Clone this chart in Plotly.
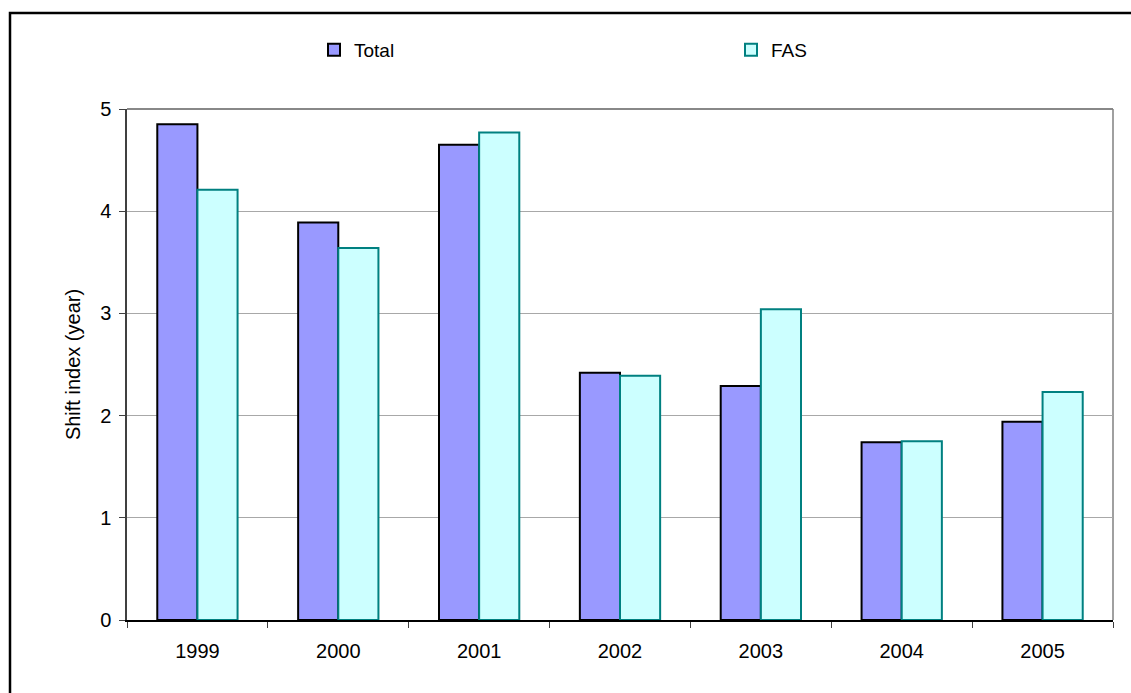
import plotly.graph_objects as go

# Shift index per year for the total sample and the FAS subgroup
years = ["1999", "2000", "2001", "2002", "2003", "2004", "2005"]
total = [4.85, 3.89, 4.65, 2.42, 2.29, 1.74, 1.94]
fas = [4.21, 3.64, 4.77, 2.39, 3.04, 1.75, 2.23]

W, H = 1131, 693
L, R, T, B = 127, 18, 109, 73
pw, ph = W - L - R, H - T - B


def px_x(x):
    return (x - L) / pw


def px_y(y):
    return (H - B - y) / ph


FONT = "Liberation Sans, Arial, sans-serif"

fig = go.Figure()
fig.add_trace(go.Bar(
    x=years, y=total, name="Total",
    marker=dict(color="#9999FF", line=dict(color="#000000", width=2)),
))
fig.add_trace(go.Bar(
    x=years, y=fas, name="FAS",
    marker=dict(color="#CCFFFF", line=dict(color="#008080", width=2)),
))

fig.update_layout(
    width=W, height=H,
    margin=dict(l=L, r=R, t=T, b=B, autoexpand=False),
    paper_bgcolor="white", plot_bgcolor="white",
    barmode="group", bargap=0.43, bargroupgap=0,
    font=dict(family=FONT, size=20, color="#000000"),
    showlegend=True,
    legend=dict(
        orientation="h", x=px_x(314), xanchor="left",
        y=px_y(50), yanchor="middle",
        entrywidth=372, entrywidthmode="pixels",
        font=dict(family=FONT, size=19, color="#000000"),
        bgcolor="rgba(0,0,0,0)", itemclick=False,
    ),
    xaxis=dict(
        type="category", showgrid=False,
        showline=True, linecolor="#000000", linewidth=1.5,
        ticks="outside", tickson="boundaries", ticklen=6, tickcolor="#404040",
        ticklabelstandoff=12,
        tickfont=dict(family=FONT, size=20),
    ),
    yaxis=dict(
        range=[0, 5], tickvals=[0, 1, 2, 3, 4, 5],
        showgrid=True, gridcolor="#A8A8A8", gridwidth=1,
        showline=True, linecolor="#404040", linewidth=1.5,
        ticks="outside", ticklen=6, tickcolor="#404040",
        ticklabelstandoff=4,
        tickfont=dict(family=FONT, size=20),
        zeroline=False,
        title=dict(text="Shift index (year)", standoff=14,
                   font=dict(family=FONT, size=20)),
    ),
    shapes=[
        # plot area border (top and right)
        dict(type="line", xref="paper", yref="paper", x0=0, x1=1, y0=1, y1=1,
             line=dict(color="#606060", width=1.5), layer="below"),
        dict(type="line", xref="paper", yref="paper", x0=1, x1=1, y0=0, y1=1,
             line=dict(color="#808080", width=1.5), layer="below"),
        # outer chart frame
        dict(type="rect", xref="paper", yref="paper",
             x0=px_x(10), x1=px_x(1145), y0=px_y(710), y1=px_y(13),
             line=dict(color="#000000", width=2.5), fillcolor="rgba(0,0,0,0)"),
    ],
)

fig.write_html("out.html")
